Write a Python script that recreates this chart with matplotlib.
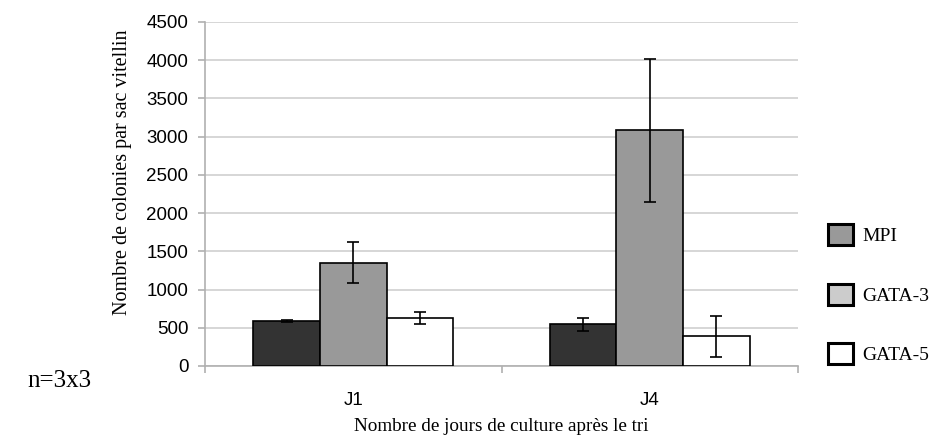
import matplotlib.pyplot as plt
import numpy as np
from matplotlib.patches import Patch

# colonies par sac vitellin, moyenne et écart
jours = ['J1', 'J4']
series = ['MPI', 'GATA-3', 'GATA-5']
moyennes = {
    'MPI': [590, 545],
    'GATA-3': [1350, 3080],
    'GATA-5': [625, 390],
}
ecarts = {
    'MPI': [10, 85],
    'GATA-3': [270, 940],
    'GATA-5': [80, 270],
}
bar_colors = ['#333333', '#999999', '#ffffff']
legend_colors = ['#999999', '#cccccc', '#ffffff']

serif = ['Liberation Serif', 'DejaVu Serif']
sans = ['Liberation Sans', 'DejaVu Sans']

fig = plt.figure(figsize=(9.3, 4.37), dpi=100)
ax = fig.add_axes([0.2205, 0.1625, 0.6375, 0.7875])

x = np.arange(len(jours))
width = 0.225
for i, s in enumerate(series):
    ax.bar(x + (i - 1) * width, moyennes[s], width, color=bar_colors[i],
           edgecolor='black', linewidth=1.2, zorder=3,
           yerr=ecarts[s], capsize=4.5,
           error_kw=dict(ecolor='black', elinewidth=1.2, capthick=1.2, zorder=4))

ax.set_xlim(-0.5, 1.5)
ax.set_ylim(0, 4500)
ax.set_yticks(np.arange(0, 4501, 500))
ax.yaxis.grid(True, color='#cfcfcf', linewidth=1.2, zorder=0)
ax.set_axisbelow(True)

ax.set_xticks(x)
ax.set_xticklabels(jours, fontfamily=sans, fontsize=13.5)
ax.set_xticks([-0.5, 0.5, 1.5], minor=True)
ax.tick_params(axis='x', which='major', length=0, pad=19)
ax.tick_params(axis='x', which='minor', length=5, color='#b0b0b0', width=1.2)
ax.tick_params(axis='y', length=5, color='#b0b0b0', width=1.2, pad=7, labelsize=13.5)
for lab in ax.get_yticklabels():
    lab.set_fontfamily(sans)

for side in ['top', 'right']:
    ax.spines[side].set_visible(False)
for side in ['left', 'bottom']:
    ax.spines[side].set_color('#b0b0b0')
    ax.spines[side].set_linewidth(1.2)

ax.set_ylabel('Nombre de colonies par sac vitellin', fontfamily=serif, fontsize=14.5)
ax.yaxis.set_label_coords(-0.123, 0.564)
ax.set_xlabel('Nombre de jours de culture après le tri', fontfamily=serif, fontsize=13.75, labelpad=6)

handles = [Patch(facecolor=c, edgecolor='black', linewidth=2.2) for c in legend_colors]
fig.legend(handles, series, loc='center left', bbox_to_anchor=(0.89, 0.327),
           frameon=False, prop={'family': serif, 'size': 14},
           handlelength=1.3, handleheight=1.3, labelspacing=1.98,
           handletextpad=0.46, borderpad=0, borderaxespad=0)

fig.text(0.029, 1 - 381 / 437, 'n=3x3', fontfamily=serif, fontsize=18, va='center')

fig.savefig('out.png', dpi=100)
